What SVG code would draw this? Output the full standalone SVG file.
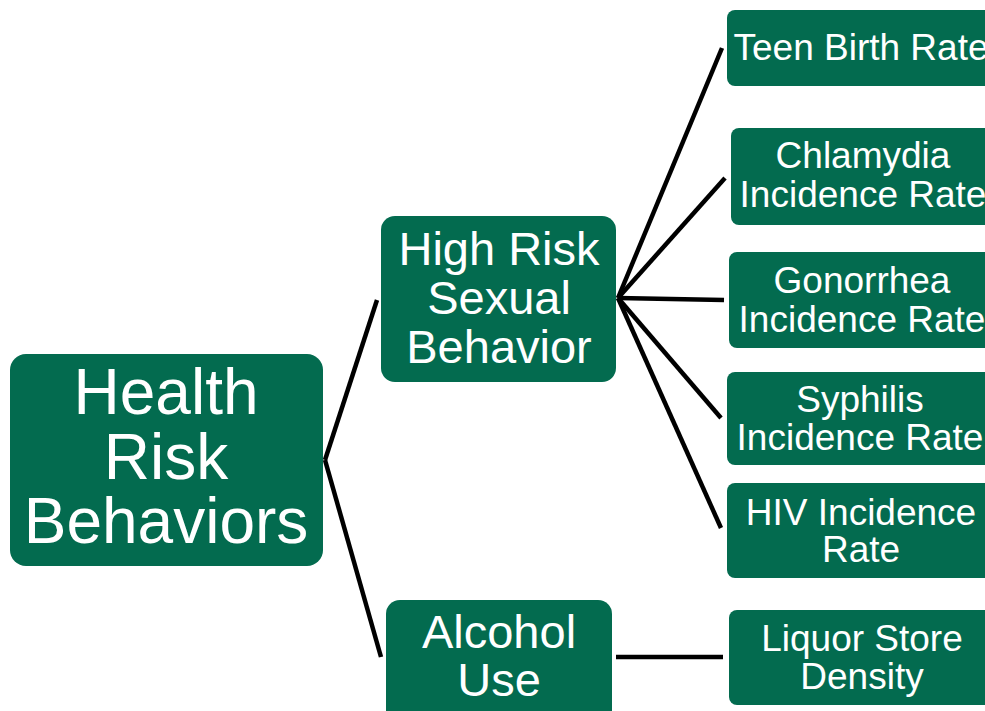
<svg xmlns="http://www.w3.org/2000/svg" width="985" height="711" viewBox="0 0 985 711">
<style>
.box{fill:#036B4F;}
.t{fill:#fff;font-family:"Liberation Sans",Arial,sans-serif;text-anchor:middle;}
.c{stroke:#000;stroke-width:4.5;fill:none;stroke-linecap:butt;}
</style>
<rect width="985" height="711" fill="#fff"/>
<g id="connectors">
<line class="c" x1="325" y1="460" x2="377" y2="300"/>
<line class="c" x1="325" y1="460" x2="381" y2="657"/>
<line class="c" x1="618" y1="298" x2="722" y2="48"/>
<line class="c" x1="618" y1="298" x2="725" y2="178"/>
<line class="c" x1="618" y1="298" x2="724" y2="300"/>
<line class="c" x1="618" y1="298" x2="721" y2="418"/>
<line class="c" x1="618" y1="298" x2="721" y2="528"/>
<line class="c" x1="616" y1="657" x2="723" y2="657"/>
</g>
<g id="root">
<rect class="box" x="10" y="354" width="313" height="212" rx="16"/>
<text class="t" font-size="64"><tspan x="166" y="414">Health</tspan><tspan x="166" y="479">Risk</tspan><tspan x="166" y="543">Behaviors</tspan></text>
</g>
<g id="sexual">
<rect class="box" x="381" y="216" width="235" height="166" rx="14"/>
<text class="t" font-size="47"><tspan x="499" y="265">High Risk</tspan><tspan x="499" y="314">Sexual</tspan><tspan x="499" y="363">Behavior</tspan></text>
</g>
<g id="alcohol">
<rect class="box" x="386" y="600" width="226" height="130" rx="14"/>
<text class="t" font-size="47"><tspan x="499" y="648">Alcohol</tspan><tspan x="499" y="696">Use</tspan></text>
</g>
<g id="teen">
<rect class="box" x="727" y="10" width="280" height="76" rx="8"/>
<text class="t" font-size="37"><tspan x="861" y="60">Teen Birth Rate</tspan></text>
</g>
<g id="chlamydia">
<rect class="box" x="731" y="128" width="276" height="97" rx="8"/>
<text class="t" font-size="37"><tspan x="863" y="168">Chlamydia</tspan><tspan x="863" y="207">Incidence Rate</tspan></text>
</g>
<g id="gonorrhea">
<rect class="box" x="729" y="252" width="278" height="96" rx="8"/>
<text class="t" font-size="37"><tspan x="862" y="293">Gonorrhea</tspan><tspan x="862" y="332">Incidence Rate</tspan></text>
</g>
<g id="syphilis">
<rect class="box" x="727" y="372" width="280" height="93" rx="8"/>
<text class="t" font-size="37"><tspan x="860" y="412">Syphilis</tspan><tspan x="860" y="450">Incidence Rate</tspan></text>
</g>
<g id="hiv">
<rect class="box" x="727" y="483" width="280" height="95" rx="8"/>
<text class="t" font-size="37"><tspan x="861" y="525">HIV Incidence</tspan><tspan x="861" y="562">Rate</tspan></text>
</g>
<g id="liquor">
<rect class="box" x="729" y="610" width="278" height="95" rx="8"/>
<text class="t" font-size="37"><tspan x="862" y="651">Liquor Store</tspan><tspan x="862" y="689">Density</tspan></text>
</g>
</svg>
